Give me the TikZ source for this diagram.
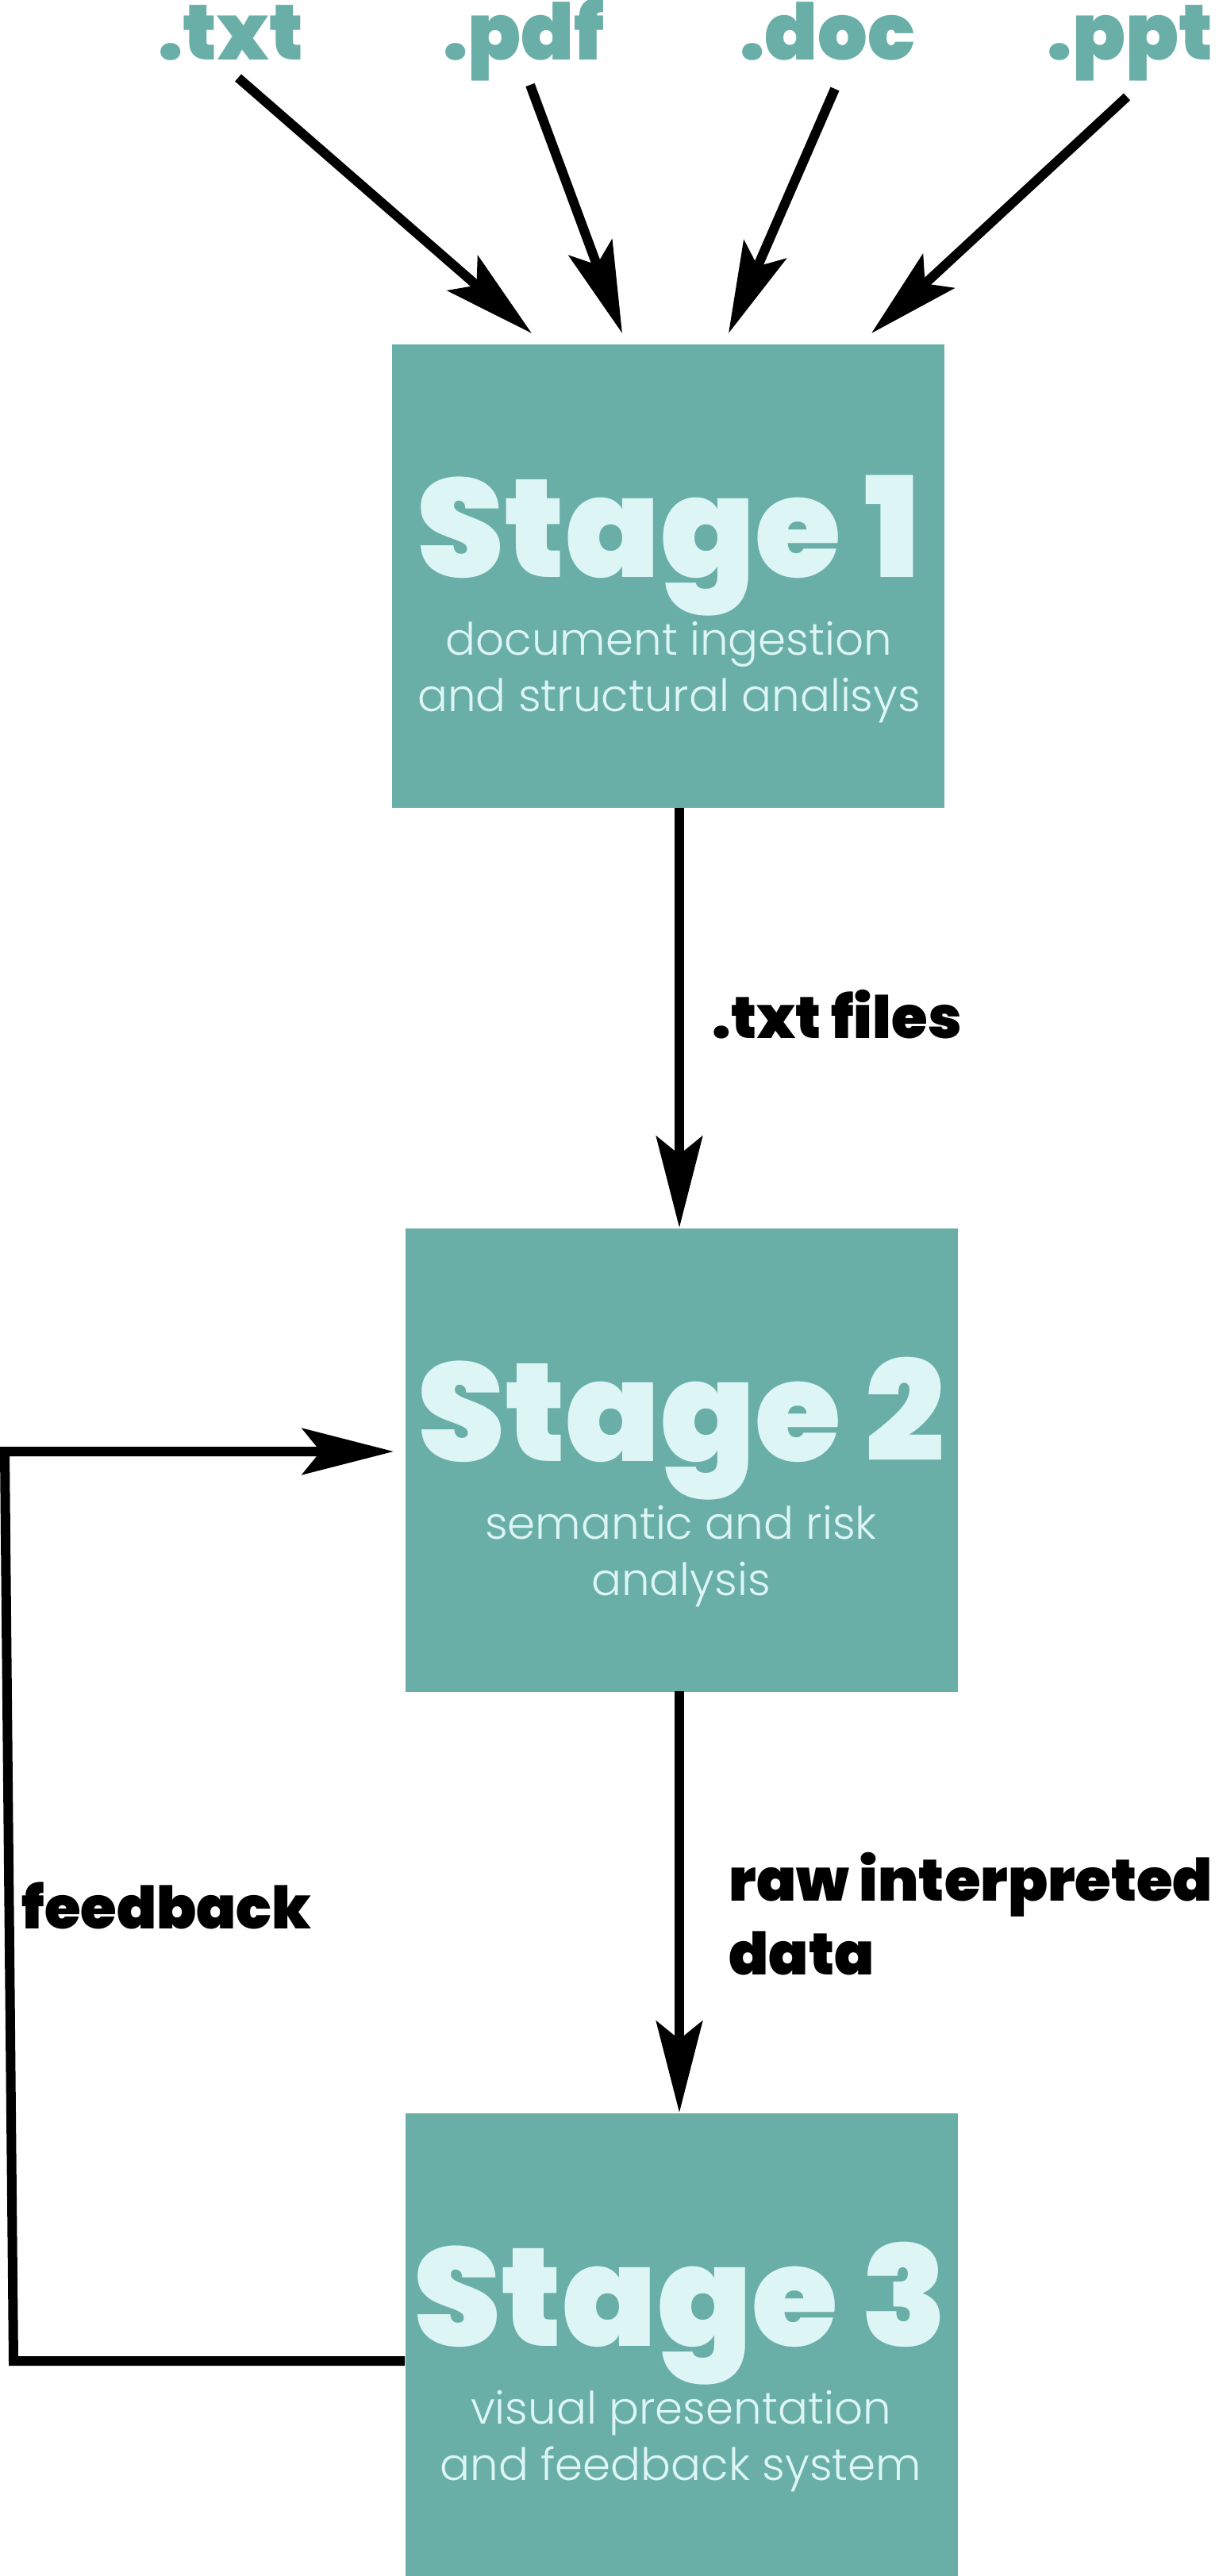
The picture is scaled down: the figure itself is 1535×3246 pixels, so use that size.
\documentclass[tikz,border=0pt]{standalone}
\usepackage{fontspec}
\setmainfont{Poppins}
\newfontfamily\heavyf{Poppins Black}
\newfontfamily\lightf{Poppins Light}
\usetikzlibrary{arrows.meta}
\definecolor{boxteal}{HTML}{69AFA7}
\definecolor{mint}{HTML}{DDF6F5}
\tikzset{
  stagebox/.style={fill=boxteal, draw=none, minimum width=6.96cm, minimum height=5.84cm, inner sep=0pt, anchor=north west},
  stagetitle/.style={text=mint, font=\heavyf\fontsize{50pt}{50pt}\selectfont, inner sep=0pt, anchor=base},
  stagesub/.style={text=mint, font=\lightf\fontsize{16pt}{16pt}\selectfont, inner sep=0pt, anchor=base},
  extlabel/.style={text=boxteal, font=\heavyf\fontsize{28pt}{28pt}\selectfont, inner sep=0pt, anchor=base},
  flowlabel/.style={text=black, font=\heavyf\fontsize{21pt}{21pt}\selectfont, inner sep=0pt, anchor=base west},
  flow/.style={draw=black, line width=0.12cm, -{Stealth[length=1.15cm, width=0.58cm, inset=0.23cm]}},
}
\begin{document}
\begin{tikzpicture}[x=0.01cm, y=-0.01cm]
\useasboundingbox (0,0) rectangle (1535,3246);
% boxes
\node[stagebox] (s1) at (493,433) {};
\node[stagebox] (s2) at (510,1547) {};
\node[stagebox] (s3) at (510,2662) {};
% stage texts
\node[stagetitle] (t1) at (843,727) {Stage 1};
\node[stagesub] (t1a) at (843,825) {document ingestion};
\node[stagesub] (t1b) at (843,896) {and structural analisys};
\node[stagetitle] (t2) at (858,1841) {Stage 2};
\node[stagesub] (t2a) at (858,1939) {semantic and risk};
\node[stagesub] (t2b) at (858,2010) {analysis};
\node[stagetitle] (t3) at (858,2956) {Stage 3};
\node[stagesub] (t3a) at (858,3054) {visual presentation};
\node[stagesub] (t3b) at (858,3125) {and feedback system};
% file type labels
\node[extlabel] (ftxt) at (291,76) {.txt};
\node[extlabel] (fpdf) at (660,76) {.pdf};
\node[extlabel] (fdoc) at (1043,76) {.doc};
\node[extlabel] (fppt) at (1424,76) {.ppt};
% arrow end points
\coordinate (a1s) at (300,98);   \coordinate (a1e) at (670,420);
\coordinate (a2s) at (668,107);  \coordinate (a2e) at (784,420);
\coordinate (a3s) at (1052,112); \coordinate (a3e) at (918,420);
\coordinate (a4s) at (1420,122); \coordinate (a4e) at (1098,420);
\draw[flow] (a1s) -- (a1e);
\draw[flow] (a2s) -- (a2e);
\draw[flow] (a3s) -- (a3e);
\draw[flow] (a4s) -- (a4e);
% flow arrows
\coordinate (b1) at (856,1018);
\coordinate (b2) at (856,1547);
\draw[flow] (b1) -- (b2);
\node[flowlabel] (l1) at (897,1308) {.txt files};
\coordinate (c1) at (856,2131);
\coordinate (c2) at (856,2662);
\draw[flow] (c1) -- (c2);
\node[flowlabel] (l2a) at (918,2395) {raw interpreted};
\node[flowlabel] (l2b) at (918,2488) {data};
% feedback loop
\coordinate (f1) at (510,2975);
\coordinate (f2) at (17,2975);
\coordinate (f3) at (6,1829);
\coordinate (f4) at (496,1829);
\draw[flow] (f1) -- (f2) -- (f3) -- (f4);
\node[flowlabel] (l3) at (27,2430) {feedback};
\end{tikzpicture}
\end{document}
